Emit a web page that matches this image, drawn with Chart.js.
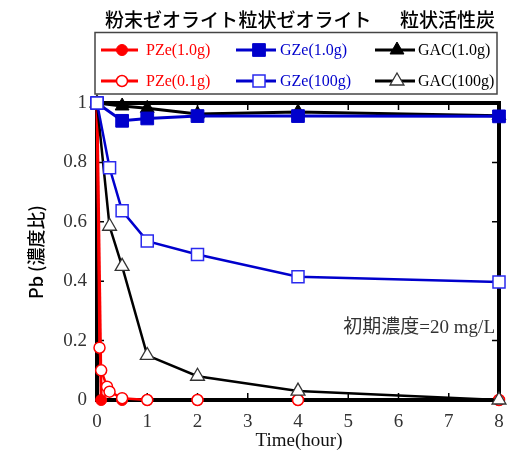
<!DOCTYPE html>
<html><head><meta charset="utf-8">
<script src="https://cdn.jsdelivr.net/npm/chart.js@4/dist/chart.umd.min.js"></script>
<style>html,body{margin:0;padding:0;background:#fff;}#wrap{width:509px;height:450px;position:relative;}</style>
</head><body><div id="wrap"><canvas id="c" width="509" height="450"></canvas></div>
<script>
// ---- data ----
const headers = ['粉末ゼオライト', '粒状ゼオライト', '粒状活性炭'];
const labels = ['PZe(1.0g)', 'PZe(0.1g)', 'GZe(1.0g)', 'GZe(100g)', 'GAC(1.0g)', 'GAC(100g)'];
const tPZe1 = [0, 0.083, 0.5, 1, 2, 4, 8];
const vPZe1 = [1, 0, 0, 0, 0, 0, 0];
const tPZe01 = [0, 0.05, 0.083, 0.2, 0.25, 0.5, 1, 2, 4, 8];
const vPZe01 = [1, 0.176, 0.1, 0.045, 0.028, 0.006, 0, 0, 0, 0];
const tGran1 = [0, 0.5, 1, 2, 4, 8];
const vGZe1 = [1, 0.94, 0.948, 0.956, 0.956, 0.955];
const vGAC1 = [1, 0.99, 0.982, 0.963, 0.97, 0.957];
const tGran100 = [0, 0.25, 0.5, 1, 2, 4, 8];
const vGZe100 = [1, 0.782, 0.637, 0.535, 0.49, 0.415, 0.397];
const vGAC100 = [1, 0.585, 0.45, 0.15, 0.08, 0.03, 0];
const xTicks = [0, 1, 2, 3, 4, 5, 6, 7, 8];
const yTicks = [0, 0.2, 0.4, 0.6, 0.8, 1];
const xTitle = 'Time(hour)';
const yTitle = 'Pb (濃度比)';
const note = '初期濃度=20 mg/L';

const RED = '#ff0000', BLUE = '#0000cc', BLUE2 = '#2a2aee', BLACK = '#000000';
const pts = (t, v) => t.map((x, i) => ({x: x, y: v[i]}));
const zeroSeg = col => ({borderColor: c => (c.p0.parsed.y === 0 && c.p1.parsed.y === 0) ? 'rgba(0,0,0,0)' : col});

const datasets = [
  {label: labels[0], data: pts(tPZe1, vPZe1), borderColor: RED, backgroundColor: RED, pointStyle: 'circle', pointRadius: 5.5, pointBorderWidth: 1, borderWidth: 3, order: 6, segment: zeroSeg(RED)},
  {label: labels[1], data: pts(tPZe01, vPZe01), borderColor: RED, backgroundColor: '#ffffff', pointBorderColor: RED, pointStyle: 'circle', pointRadius: 5.5, pointBorderWidth: 1.5, borderWidth: 2.5, order: 5, segment: zeroSeg(RED)},
  {label: labels[2], data: pts(tGran1, vGZe1), borderColor: BLUE, backgroundColor: BLUE, pointStyle: 'rect', pointRadius: 9, pointBorderWidth: 1, borderWidth: 3, order: 3},
  {label: labels[3], data: pts(tGran100, vGZe100), borderColor: BLUE, backgroundColor: '#ffffff', pointBorderColor: BLUE2, pointStyle: 'rect', pointRadius: 8.5, pointBorderWidth: 1.5, borderWidth: 2.5, order: 1},
  {label: labels[4], data: pts(tGran1, vGAC1), borderColor: BLACK, backgroundColor: BLACK, pointStyle: 'triangle', pointRadius: 8, pointBorderWidth: 1, borderWidth: 3, order: 4},
  {label: labels[5], data: pts(tGran100, vGAC100), borderColor: BLACK, backgroundColor: '#ffffff', pointBorderColor: '#333', pointStyle: 'triangle', pointRadius: 8, pointBorderWidth: 1.3, borderWidth: 2.5, order: 2}
];
datasets.forEach(d => { d.clip = false; d.tension = 0; d.fill = false; });

const SERIF = '"Liberation Serif", "Noto Sans CJK JP", serif';
const SANS = '"Noto Sans CJK JP", "Noto Sans", sans-serif';

const frame = {
  id: 'frame',
  beforeDatasetsDraw(chart) {
    const {ctx, chartArea: a, scales: {x, y}} = chart;
    ctx.save();
    ctx.strokeStyle = '#000';
    ctx.lineWidth = 4;
    ctx.strokeRect(a.left, a.top, a.right - a.left, a.bottom - a.top);
    ctx.lineWidth = 1.5;
    ctx.beginPath();
    xTicks.slice(1, -1).forEach(v => {
      const px = x.getPixelForValue(v);
      ctx.moveTo(px, a.bottom); ctx.lineTo(px, a.bottom - 7);
      ctx.moveTo(px, a.top); ctx.lineTo(px, a.top + 7);
    });
    yTicks.slice(1, -1).forEach(v => {
      const py = y.getPixelForValue(v);
      ctx.moveTo(a.left, py); ctx.lineTo(a.left + 7, py);
      ctx.moveTo(a.right, py); ctx.lineTo(a.right - 7, py);
    });
    ctx.stroke();
    ctx.restore();
  },
  afterDraw(chart) {
    const {ctx} = chart;
    ctx.save();
    // headers
    ctx.fillStyle = '#000';
    ctx.font = '500 19px ' + SANS;
    ctx.textAlign = 'center'; ctx.textBaseline = 'middle';
    [171.5, 305, 447.5].forEach((cx, i) => ctx.fillText(headers[i], cx, 20));
    // legend box
    ctx.strokeStyle = '#444'; ctx.lineWidth = 1.5;
    ctx.strokeRect(95, 32.5, 402, 61.5);
    const cols = [{l: 101, r: 138, m: 122, t: 146}, {l: 236, r: 276, m: 259, t: 280}, {l: 375, r: 415, m: 397, t: 418}];
    const rows = [50, 81];
    const textCols = [RED, BLUE, BLACK];
    for (let c = 0; c < 3; c++) {
      for (let r = 0; r < 2; r++) {
        const ds = chart.data.datasets[c * 2 + r];
        const col = cols[c], yy = rows[r];
        ctx.strokeStyle = ds.borderColor; ctx.lineWidth = 3.2;
        ctx.beginPath(); ctx.moveTo(col.l, yy); ctx.lineTo(col.r, yy); ctx.stroke();
        ctx.fillStyle = ds.backgroundColor;
        ctx.strokeStyle = ds.pointBorderColor || ds.borderColor;
        ctx.lineWidth = ds.pointBorderWidth;
        Chart.helpers.drawPoint(ctx, {pointStyle: ds.pointStyle, radius: ds.pointRadius, rotation: 0, borderWidth: ds.pointBorderWidth}, col.m, yy);
        ctx.fillStyle = textCols[c];
        ctx.font = '16px ' + SERIF;
        ctx.textAlign = 'left'; ctx.textBaseline = 'middle';
        ctx.fillText(ds.label, col.t, yy + 1);
      }
    }
    // axis titles and note
    ctx.fillStyle = '#111';
    ctx.font = '19px ' + SERIF;
    ctx.textAlign = 'center'; ctx.textBaseline = 'middle';
    ctx.fillText(xTitle, 299, 441);
    ctx.textAlign = 'right';
    ctx.fillStyle = '#333';
    ctx.fillText(note, 495, 328);
    ctx.save();
    ctx.translate(36, 252); ctx.rotate(-Math.PI / 2);
    ctx.fillStyle = '#000';
    ctx.font = '500 18px ' + SANS;
    ctx.textAlign = 'center';
    ctx.fillText(yTitle, 0, 0);
    ctx.restore();
    ctx.restore();
  }
};

new Chart(document.getElementById('c'), {
  type: 'line',
  data: {datasets: datasets},
  options: {
    responsive: false, animation: false, devicePixelRatio: 1,
    layout: {padding: {top: 103, right: 9, left: 0, bottom: 0}},
    plugins: {legend: {display: false}, tooltip: {enabled: false}, title: {display: false}},
    scales: {
      x: {
        type: 'linear', min: 0, max: 8,
        afterBuildTicks: s => { s.ticks = xTicks.map(v => ({value: v})); },
        afterFit: s => { s.height = 50; s.paddingLeft = 0; s.paddingRight = 0; },
        grid: {display: false, drawTicks: false},
        border: {display: false},
        ticks: {font: {family: SERIF, size: 19}, color: '#333', padding: 11, maxRotation: 0, autoSkip: false}
      },
      y: {
        type: 'linear', min: 0, max: 1,
        afterBuildTicks: s => { s.ticks = yTicks.map(v => ({value: v})); },
        afterFit: s => { s.width = 97; s.paddingTop = 0; s.paddingBottom = 0; },
        grid: {display: false, drawTicks: false},
        border: {display: false},
        ticks: {font: {family: SERIF, size: 19}, color: '#333', padding: 10, autoSkip: false,
          callback: v => String(Math.round(v * 10) / 10)}
      }
    }
  },
  plugins: [frame]
});
</script></body></html>
